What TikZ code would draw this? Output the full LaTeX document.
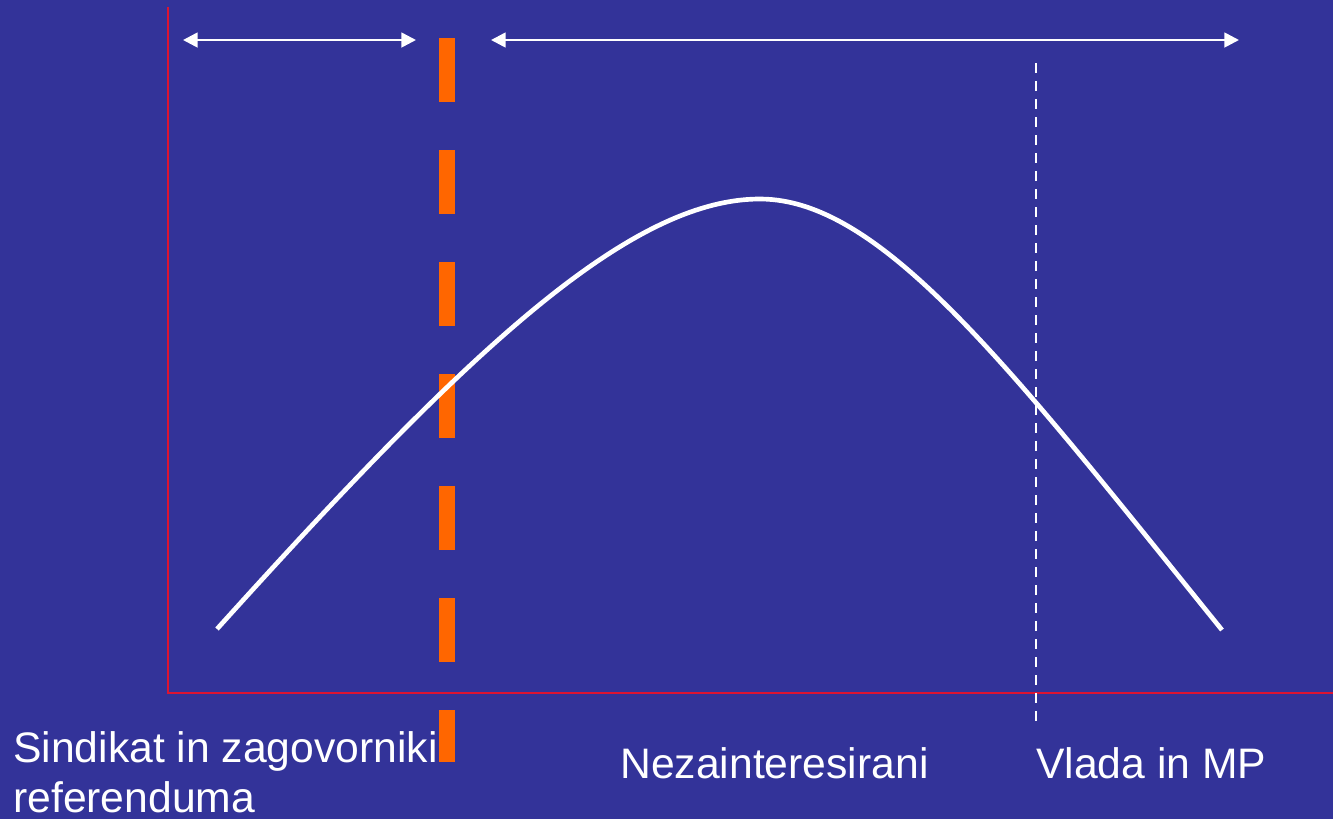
\documentclass[tikz,border=0pt]{standalone}
\usepackage{fontspec}
\setmainfont{Liberation Sans}
\usetikzlibrary{arrows.meta}
\definecolor{bg}{RGB}{51,51,153}
\definecolor{axisred}{RGB}{220,20,50}
\definecolor{dashorange}{RGB}{255,102,0}
\begin{document}
\begin{tikzpicture}[x=0.75pt,y=-0.75pt,
  lbl/.style={text=white,font=\fontsize{32}{37.5}\selectfont,inner sep=0pt,anchor=base west},
  span/.style={white,line width=2pt,{Triangle[length=11pt,width=11pt]}-{Triangle[length=11pt,width=11pt]}},
  axisline/.style={axisred,line width=1.5pt},
  divider/.style={dashorange,line width=12pt,dash pattern=on 48pt off 36pt},
  thindiv/.style={white,line width=1.8pt,dash pattern=on 7.5pt off 6pt},
  bell/.style={white,line width=3.5pt}]
\fill[bg] (0,0) rectangle (1333,819);
\useasboundingbox (0,0) rectangle (1333,819);
% axes
\coordinate (ytop) at (168,7);
\coordinate (origin) at (168,693);
\coordinate (xend) at (1333,693);
\draw[axisline] (ytop) -- (origin) -- (xend);
% orange divider
\coordinate (otop) at (447,38);
\coordinate (obot) at (447,762);
\draw[divider] (otop) -- (obot);
% white dashed divider
\coordinate (wtop) at (1036,63);
\coordinate (wbot) at (1036,728);
\draw[thindiv] (wtop) -- (wbot);
% span arrows
\coordinate (a1l) at (183,40);
\coordinate (a1r) at (416,40);
\coordinate (a2l) at (491,40);
\coordinate (a2r) at (1239,40);
\draw[span] (a1l) -- (a1r);
\draw[span] (a2l) -- (a2r);
% bell curve
\coordinate (cl) at (217,629);
\coordinate (peak) at (760,199);
\coordinate (cr) at (1222,630);
\draw[bell] (cl) .. controls (465,354) and (628,199) .. (peak)
  .. controls (882,199) and (1012,370) .. (cr);
% labels
\node[lbl] (sind1) at (13,762) {Sindikat in zagovorniki};
\node[lbl] (sind2) at (13,812) {referenduma};
\node[lbl] (nez) at (620,778) {Nezainteresirani};
\node[lbl] (vlada) at (1036,778) {Vlada in MP};
\end{tikzpicture}
\end{document}
